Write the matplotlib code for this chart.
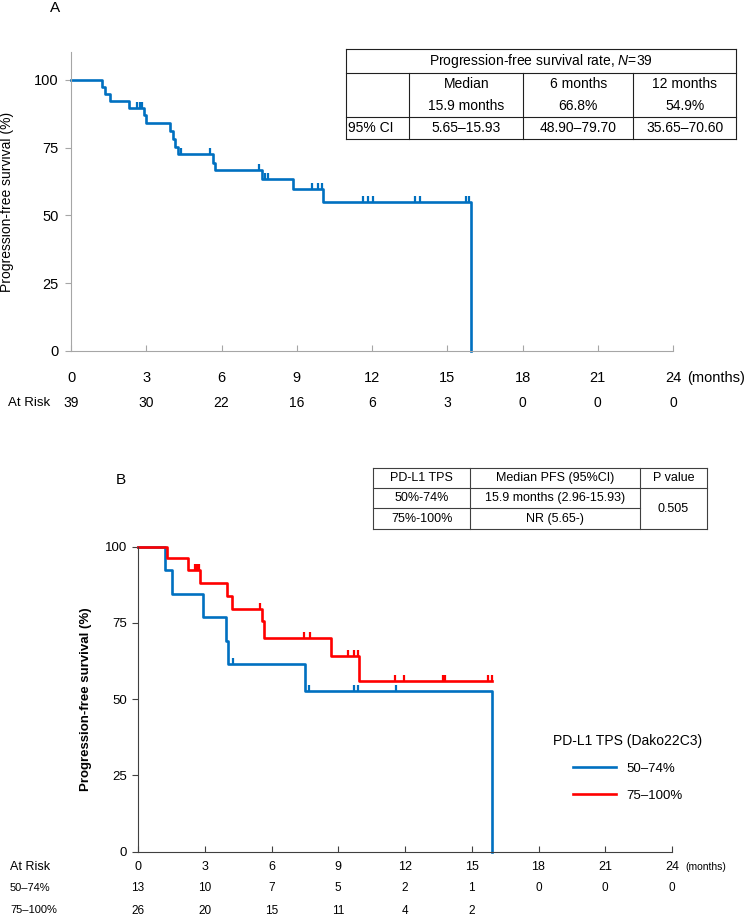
import numpy as np
import matplotlib
matplotlib.use("Agg")
import matplotlib.pyplot as plt
from matplotlib.transforms import blended_transform_factory, ScaledTranslation

plt.rcParams['font.family'] = ['Liberation Sans', 'DejaVu Sans']
plt.rcParams['mathtext.fontset'] = 'custom'
plt.rcParams['mathtext.it'] = 'Liberation Sans:italic'
plt.rcParams['mathtext.rm'] = 'Liberation Sans'

BLUE = '#0070C0'
RED = '#FF0000'

# ---- panel A data ----
a_times = [0, 1.25, 1.35, 1.55, 2.3, 2.9, 3.0, 3.95, 4.05, 4.15, 4.25, 5.65, 5.75, 7.6, 8.85, 10.05, 15.93]
a_surv = [100, 97.4, 94.9, 92.3, 89.7, 87.0, 84.1, 81.2, 78.3, 75.4, 72.5, 69.5, 66.8, 63.5, 59.8, 54.9, 0]
a_cens_t = [2.65, 2.75, 2.85, 4.4, 5.55, 7.5, 7.75, 7.85, 9.6, 9.85, 10.0,
            11.65, 11.85, 12.05, 13.7, 13.9, 15.75, 15.85]
a_cens_s = [89.7, 89.7, 89.7, 72.5, 72.5, 66.8, 63.5, 63.5, 59.8, 59.8, 59.8,
            54.9, 54.9, 54.9, 54.9, 54.9, 54.9, 54.9]
a_risk = [39, 30, 22, 16, 6, 3, 0, 0, 0]

# ---- panel B data ----
b1_times = [0, 1.21, 1.51, 2.93, 3.96, 4.03, 7.5, 15.93]
b1_surv = [100, 92.3, 84.6, 76.9, 69.2, 61.5, 52.7, 0]
b1_cens_t = [4.28, 7.7, 9.7, 9.9, 11.6]
b1_cens_s = [61.5, 52.7, 52.7, 52.7, 52.7]
b2_times = [0, 1.29, 2.26, 2.79, 3.99, 4.21, 5.59, 5.66, 8.66, 9.93, 15.9]
b2_surv = [100, 96.2, 92.3, 88.1, 83.9, 79.7, 75.5, 70.0, 64.1, 56.1, 56.1]
b2_cens_t = [2.55, 2.65, 2.75, 5.48, 7.46, 7.73, 9.45, 9.71, 9.87,
             11.55, 11.97, 13.72, 13.8, 15.74, 15.9]
b2_cens_s = [92.3, 92.3, 92.3, 79.7, 70.0, 70.0, 64.1, 64.1, 64.1,
             56.1, 56.1, 56.1, 56.1, 56.1, 56.1]
b1_risk = [13, 10, 7, 5, 2, 1, 0, 0, 0]
b2_risk = [26, 20, 15, 11, 4, 2]
b_labels = ['50–74%', '75–100%']

x_ticks = [0, 3, 6, 9, 12, 15, 18, 21, 24]
y_ticks = [0, 25, 50, 75, 100]

W, H = 745, 916
fig = plt.figure(figsize=(W / 100, H / 100), dpi=100)

up_tick = [(0, 0), (0, 1)]  # censor mark drawn above the line


def px_axes(left, right, top, bottom):
    return fig.add_axes([left / W, 1 - bottom / H, (right - left) / W, (bottom - top) / H])


def below(ax, px):
    return blended_transform_factory(ax.transData, ax.transAxes) + \
        ScaledTranslation(0, -px / 100, fig.dpi_scale_trans)


# ================= Panel A =================
axA = px_axes(71, 673, 52, 351)
axA.step(a_times, a_surv, where='post', color=BLUE, lw=1.9, clip_on=False)
axA.plot(a_cens_t, a_cens_s, ls='none', marker=up_tick, ms=9, mew=1.6, color=BLUE)
axA.set_xlim(0, 24)
axA.set_ylim(0, 110.3)
axA.set_xticks(x_ticks)
axA.set_yticks(y_ticks)
axA.set_xticklabels([])
for s in ['top', 'right']:
    axA.spines[s].set_visible(False)
for s in ['left', 'bottom']:
    axA.spines[s].set_color('#A6A6A6')
axA.tick_params(axis='x', direction='in', length=4, color='#A6A6A6')
axA.tick_params(axis='y', direction='out', length=4, color='#A6A6A6', labelsize=10.5, pad=5)
axA.set_ylabel('Progression-free survival (%)', fontsize=10, labelpad=14)
for x in x_ticks:
    axA.text(x, 0, str(x), transform=below(axA, 27), ha='center', va='center', fontsize=10.5)
axA.text(24.55, 0, '(months)', transform=below(axA, 27), ha='left', va='center', fontsize=10.5)
for x, n in zip(x_ticks, a_risk):
    axA.text(x, 0, str(n), transform=below(axA, 52), ha='center', va='center', fontsize=10)
fig.text(8 / W, 1 - 403 / H, 'At Risk', ha='left', va='center', fontsize=9.5)
fig.text(55 / W, 1 - 8 / H, 'A', ha='center', va='center', fontsize=11)

# ================= Panel B =================
axB = px_axes(138, 672, 546.7, 851.7)
axB.step(b1_times, b1_surv, where='post', color=BLUE, lw=1.9, clip_on=False, label=b_labels[0])
axB.step(b2_times, b2_surv, where='post', color=RED, lw=1.9, clip_on=False, label=b_labels[1])
axB.plot(b1_cens_t, b1_cens_s, ls='none', marker=up_tick, ms=9, mew=1.6, color=BLUE, clip_on=False)
axB.plot(b2_cens_t, b2_cens_s, ls='none', marker=up_tick, ms=9, mew=1.6, color=RED, clip_on=False)
axB.set_xlim(0, 24)
axB.set_ylim(0, 100)
axB.set_xticks(x_ticks)
axB.set_yticks(y_ticks)
axB.set_xticklabels([])
for s in ['top', 'right']:
    axB.spines[s].set_visible(False)
for s in ['left', 'bottom']:
    axB.spines[s].set_color('#404040')
axB.tick_params(axis='x', direction='in', length=4, color='#404040')
axB.tick_params(axis='y', direction='out', length=4, color='#404040', labelsize=9.5, pad=4)
axB.set_ylabel('Progression-free survival (%)', fontsize=9.5, fontweight='bold', labelpad=9)
for x in x_ticks:
    axB.text(x, 0, str(x), transform=below(axB, 15), ha='center', va='center', fontsize=9)
axB.text(24.6, 0, '(months)', transform=below(axB, 15), ha='left', va='center', fontsize=7.5)
for x, n in zip(x_ticks, b1_risk):
    axB.text(x, 0, str(n), transform=below(axB, 36), ha='center', va='center', fontsize=8.5)
for x, n in zip(x_ticks, b2_risk):
    axB.text(x, 0, str(n), transform=below(axB, 59), ha='center', va='center', fontsize=8.5)
fig.text(10 / W, 1 - 867 / H, 'At Risk', ha='left', va='center', fontsize=9)
fig.text(10 / W, 1 - 888 / H, b_labels[0], ha='left', va='center', fontsize=8)
fig.text(10 / W, 1 - 910 / H, b_labels[1], ha='left', va='center', fontsize=8)
fig.text(121 / W, 1 - 480 / H, 'B', ha='center', va='center', fontsize=11)

leg = axB.legend(title='PD-L1 TPS (Dako22C3)', loc='center', frameon=False,
                 bbox_to_anchor=(628 / W, 1 - 768 / H), bbox_transform=fig.transFigure,
                 fontsize=9.5, title_fontsize=10, handlelength=3.2, labelspacing=1.1,
                 handletextpad=0.8)

# ================= Tables (pixel overlay) =================
ov = fig.add_axes([0, 0, 1, 1])
ov.set_xlim(0, W)
ov.set_ylim(H, 0)
ov.axis('off')
ov.patch.set_visible(False)

# table A
lc = dict(color='#202020', lw=0.8)
tA_x = [346, 409.3, 523.3, 633.3, 736]
tA_y = [49.3, 72.7, 117.3, 139]
for y in tA_y:
    ov.plot([tA_x[0], tA_x[-1]], [y, y], **lc)
ov.plot([tA_x[0], tA_x[0]], [tA_y[0], tA_y[-1]], **lc)
ov.plot([tA_x[-1], tA_x[-1]], [tA_y[0], tA_y[-1]], **lc)
for x in tA_x[1:-1]:
    ov.plot([x, x], [tA_y[1], tA_y[-1]], **lc)
fsA = 10
ov.text((tA_x[0] + tA_x[-1]) / 2, 61, 'Progression-free survival rate, $N$=39', ha='center', va='center', fontsize=fsA)
hdr = ['Median', '6 months', '12 months']
vals = ['15.9 months', '66.8%', '54.9%']
cis = ['5.65–15.93', '48.90–79.70', '35.65–70.60']
for i in range(3):
    cx = (tA_x[i + 1] + tA_x[i + 2]) / 2
    ov.text(cx, 84.5, hdr[i], ha='center', va='center', fontsize=fsA)
    ov.text(cx, 106.5, vals[i], ha='center', va='center', fontsize=fsA)
    ov.text(cx, 128.5, cis[i], ha='center', va='center', fontsize=fsA)
ov.text(348, 128.5, '95% CI', ha='left', va='center', fontsize=fsA)

# table B
lcB = dict(color='#404040', lw=0.8)
tB_x = [373.3, 470, 640, 707]
tB_y = [467.7, 488.3, 508.3, 529]
for y in [tB_y[0], tB_y[1], tB_y[3]]:
    ov.plot([tB_x[0], tB_x[-1]], [y, y], **lcB)
ov.plot([tB_x[0], tB_x[2]], [tB_y[2], tB_y[2]], **lcB)
for x in tB_x:
    ov.plot([x, x], [tB_y[0], tB_y[-1]], **lcB)
fsB = 9
rowsB = [['PD-L1 TPS', 'Median PFS (95%CI)', 'P value'],
         ['50%-74%', '15.9 months (2.96-15.93)'],
         ['75%-100%', 'NR (5.65-)']]
for r, row in enumerate(rowsB):
    cy = (tB_y[r] + tB_y[r + 1]) / 2
    for c, txt in enumerate(row):
        cx = (tB_x[c] + tB_x[c + 1]) / 2
        ov.text(cx, cy, txt, ha='center', va='center', fontsize=fsB)
ov.text((tB_x[2] + tB_x[3]) / 2, (tB_y[1] + tB_y[3]) / 2, '0.505', ha='center', va='center', fontsize=fsB)

fig.savefig('out.png', dpi=100)
